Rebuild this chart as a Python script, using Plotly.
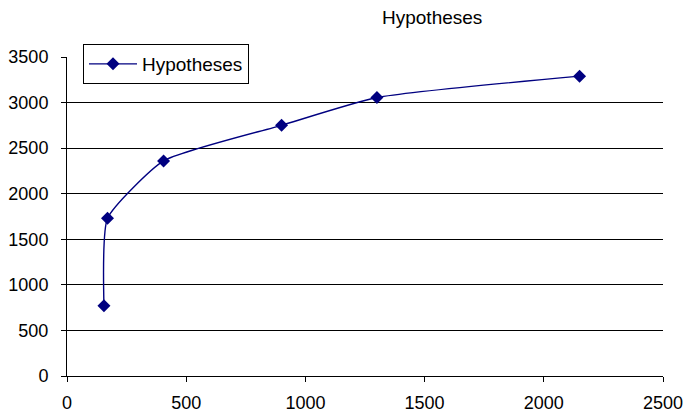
import plotly.graph_objects as go

x_vals = [155, 170, 405, 900, 1300, 2150]
y_vals = [770, 1730, 2360, 2750, 3055, 3290]
series_name = "Hypotheses"
chart_title = "Hypotheses"
x_ticks = [0, 500, 1000, 1500, 2000, 2500]
y_ticks = [0, 500, 1000, 1500, 2000, 2500, 3000, 3500]

navy = "#000080"
font = "Liberation Sans, Arial, sans-serif"

W, H = 684, 417
L, R, T, B = 67, 663, 57, 376  # plot area in pixels

fig = go.Figure()
fig.add_trace(go.Scatter(
    x=x_vals, y=y_vals, name=series_name, mode="lines+markers",
    line=dict(color=navy, width=1.4, shape="spline", smoothing=0.5),
    marker=dict(symbol="diamond", size=10, color=navy),
))

fig.update_layout(
    width=W, height=H,
    margin=dict(l=L, r=W - R, t=T, b=H - B, autoexpand=False),
    paper_bgcolor="white", plot_bgcolor="white",
    font=dict(family=font, size=18, color="black"),
    showlegend=True,
    legend=dict(x=(83 - L) / (R - L), y=(B - 44) / (B - T), xanchor="left", yanchor="top",
                bordercolor="black", borderwidth=1, bgcolor="white",
                font=dict(size=19), itemwidth=48, tracegroupgap=0),
    annotations=[dict(text=chart_title, x=(432 - L) / (R - L), y=(B - 17) / (B - T),
                      xref="paper", yref="paper", xanchor="center", yanchor="middle",
                      showarrow=False, font=dict(size=19, family=font))],
)

fig.update_xaxes(range=[0, 2500], tickvals=x_ticks, showgrid=False, zeroline=False,
                 showline=True, linecolor="black", linewidth=1,
                 ticks="outside", ticklen=5, tickcolor="black", automargin=False,
                 tickfont=dict(size=18), ticklabelstandoff=5, fixedrange=True)
fig.update_yaxes(range=[0, 3500], tickvals=y_ticks, showgrid=True, gridcolor="black",
                 gridwidth=1, zeroline=False, showline=True, linecolor="black",
                 linewidth=1, ticks="outside", ticklen=5, tickcolor="black", automargin=False,
                 tickfont=dict(size=18), ticklabelstandoff=9, fixedrange=True)

fig.write_html("out.html", config={"displayModeBar": False},
               post_script="document.body.style.margin='0px';")
